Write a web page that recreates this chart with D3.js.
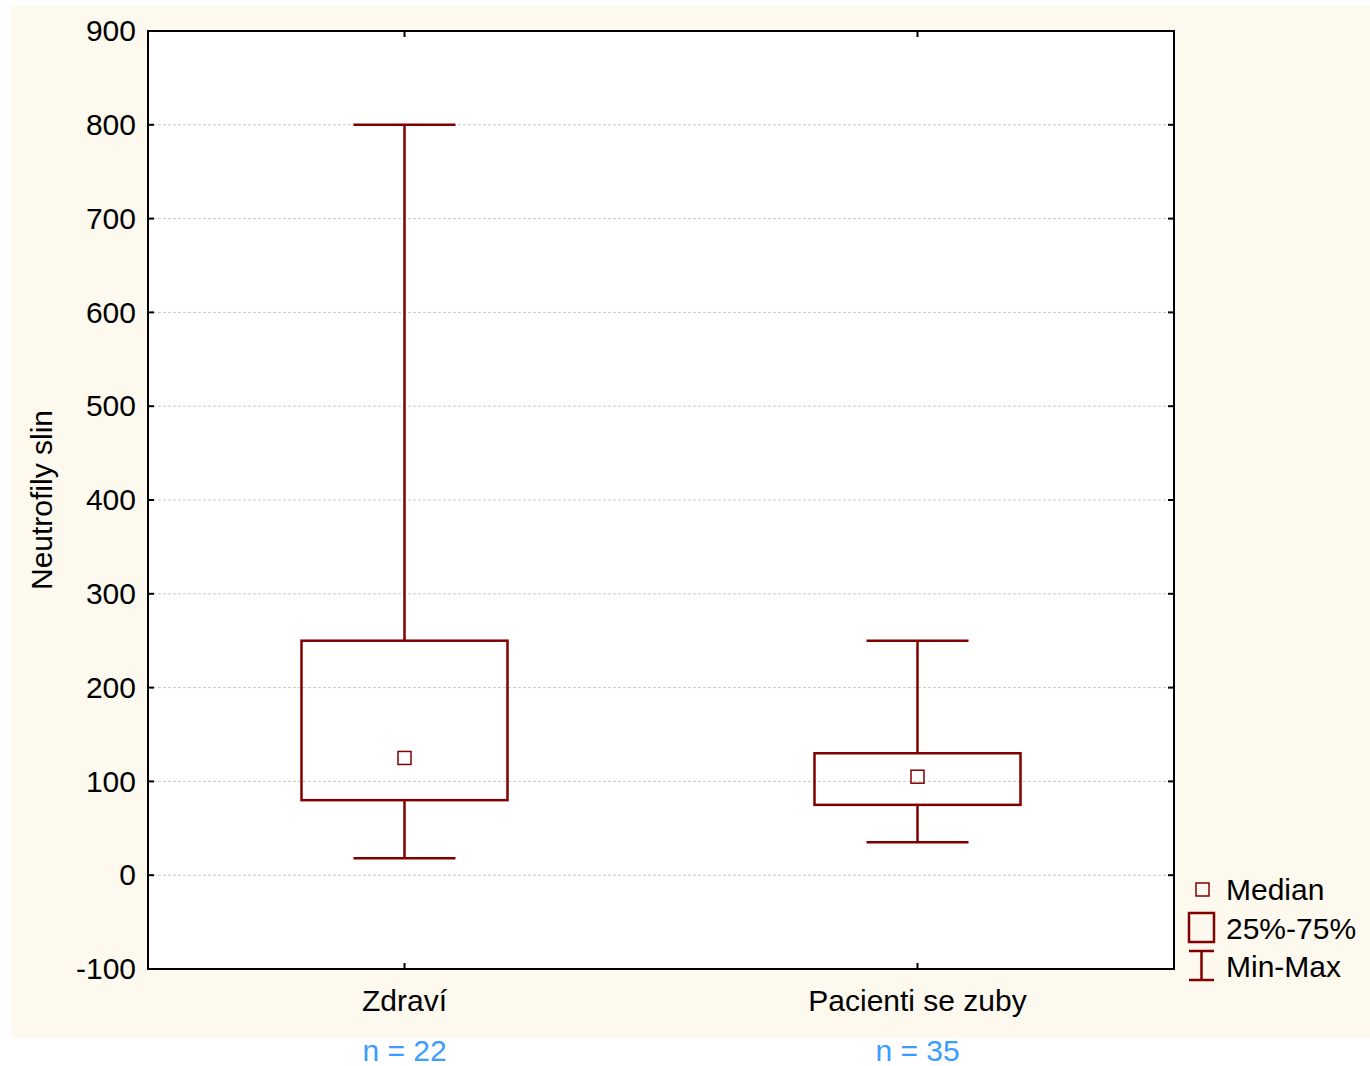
<!DOCTYPE html>
<html>
<head>
<meta charset="utf-8">
<script src="https://cdn.jsdelivr.net/npm/d3@7"></script>
<style>
  body { margin: 0; background: #fff; }
  text { font-family: "Liberation Sans", Arial, sans-serif; }
</style>
</head>
<body>
<div id="chart"></div>
<script>
// data
const groups = ['Zdraví', 'Pacienti se zuby'];
const counts = [22, 35];
const mins = [18, 35];
const q1s = [80, 75];
const medians = [125, 105];
const q3s = [250, 130];
const maxs = [800, 250];
const yTicks = [-100, 0, 100, 200, 300, 400, 500, 600, 700, 800, 900];

const W = 1370, H = 1066;
const plot = { left: 148, right: 1174, top: 31, bottom: 969 };
const red = '#800000';
const fs = 30;

const svg = d3.select('#chart').append('svg')
  .attr('width', W).attr('height', H);

// cream backdrop
svg.append('rect')
  .attr('x', 11).attr('y', 6).attr('width', W - 11).attr('height', 1032)
  .attr('fill', '#fdf9ee');

const x = d3.scalePoint().domain(groups).range([plot.left, plot.right]).padding(0.5);
const y = d3.scaleLinear().domain([-100, 900]).range([plot.bottom, plot.top]);

svg.append('rect')
  .attr('x', plot.left).attr('y', plot.top)
  .attr('width', plot.right - plot.left).attr('height', plot.bottom - plot.top)
  .attr('fill', '#fff');

// grid
svg.append('g').selectAll('line')
  .data(yTicks.filter(d => d > -100 && d < 900))
  .join('line')
  .attr('x1', plot.left).attr('x2', plot.right)
  .attr('y1', d => y(d)).attr('y2', d => y(d))
  .attr('stroke', '#c8c8c8').attr('stroke-dasharray', '3,2').attr('stroke-width', 1);

// axes
const yAxis = d3.axisLeft(y).tickValues(yTicks).tickSize(0).tickPadding(12)
  .tickFormat(d => String(d));
const ga = svg.append('g').attr('transform', `translate(${plot.left},0)`).call(yAxis);
ga.select('.domain').remove();
ga.attr('font-size', fs).attr('font-family', '"Liberation Sans", Arial, sans-serif');
ga.selectAll('text').attr('fill', '#000');

// inner ticks
const tk = svg.append('g').attr('stroke', '#000').attr('stroke-width', 2);
yTicks.forEach(t => {
  tk.append('line').attr('x1', plot.left).attr('x2', plot.left + 6).attr('y1', y(t)).attr('y2', y(t));
  tk.append('line').attr('x1', plot.right - 6).attr('x2', plot.right).attr('y1', y(t)).attr('y2', y(t));
});
groups.forEach(g => {
  tk.append('line').attr('x1', x(g)).attr('x2', x(g)).attr('y1', plot.bottom).attr('y2', plot.bottom - 6);
  tk.append('line').attr('x1', x(g)).attr('x2', x(g)).attr('y1', plot.top).attr('y2', plot.top + 6);
});

// category labels and n
svg.append('g').selectAll('text').data(groups).join('text')
  .attr('x', d => x(d)).attr('y', 1011)
  .attr('text-anchor', 'middle').attr('font-size', fs).attr('fill', '#000')
  .text(d => d);
svg.append('g').selectAll('text').data(groups).join('text')
  .attr('x', d => x(d)).attr('y', 1061)
  .attr('text-anchor', 'middle').attr('font-size', fs).attr('fill', '#3c9cff')
  .text((d, i) => `n = ${counts[i]}`);

// y label
svg.append('text')
  .attr('transform', `translate(52,${(plot.top + plot.bottom) / 2}) rotate(-90)`)
  .attr('text-anchor', 'middle').attr('font-size', fs).attr('fill', '#000')
  .text('Neutrofily slin');

// boxes
const boxW = 206, capW = 102, med = 13;
const boxes = svg.append('g').attr('stroke', red).attr('stroke-width', 2.5).attr('fill', 'none');
groups.forEach((g, i) => {
  const cx = x(g);
  boxes.append('line').attr('x1', cx).attr('x2', cx).attr('y1', y(maxs[i])).attr('y2', y(q3s[i]));
  boxes.append('line').attr('x1', cx).attr('x2', cx).attr('y1', y(q1s[i])).attr('y2', y(mins[i]));
  boxes.append('line').attr('x1', cx - capW / 2).attr('x2', cx + capW / 2).attr('y1', y(maxs[i])).attr('y2', y(maxs[i]));
  boxes.append('line').attr('x1', cx - capW / 2).attr('x2', cx + capW / 2).attr('y1', y(mins[i])).attr('y2', y(mins[i]));
  boxes.append('rect').attr('x', cx - boxW / 2).attr('y', y(q3s[i]))
    .attr('width', boxW).attr('height', y(q1s[i]) - y(q3s[i]));
  boxes.append('rect').attr('x', cx - med / 2).attr('y', y(medians[i]) - med / 2)
    .attr('width', med).attr('height', med).attr('stroke-width', 1.5);
});

// frame
svg.append('rect')
  .attr('x', plot.left).attr('y', plot.top)
  .attr('width', plot.right - plot.left).attr('height', plot.bottom - plot.top)
  .attr('fill', 'none').attr('stroke', '#000').attr('stroke-width', 2);

// legend
const lg = svg.append('g').attr('stroke', red).attr('fill', 'none');
lg.append('rect').attr('x', 1196).attr('y', 883).attr('width', 13).attr('height', 13).attr('stroke-width', 1.5);
lg.append('rect').attr('x', 1189).attr('y', 913).attr('width', 25).attr('height', 29).attr('stroke-width', 2.5);
lg.append('line').attr('x1', 1201.5).attr('x2', 1201.5).attr('y1', 951).attr('y2', 980).attr('stroke-width', 2.5);
lg.append('line').attr('x1', 1189).attr('x2', 1214).attr('y1', 951).attr('y2', 951).attr('stroke-width', 2.5);
lg.append('line').attr('x1', 1189).attr('x2', 1214).attr('y1', 980).attr('y2', 980).attr('stroke-width', 2.5);
const lt = svg.append('g').attr('font-size', 30).attr('fill', '#000');
['Median', '25%-75%', 'Min-Max'].forEach((t, i) => {
  lt.append('text').attr('x', 1226).attr('y', 900 + i * 38.5).text(t);
});
</script>
</body>
</html>
